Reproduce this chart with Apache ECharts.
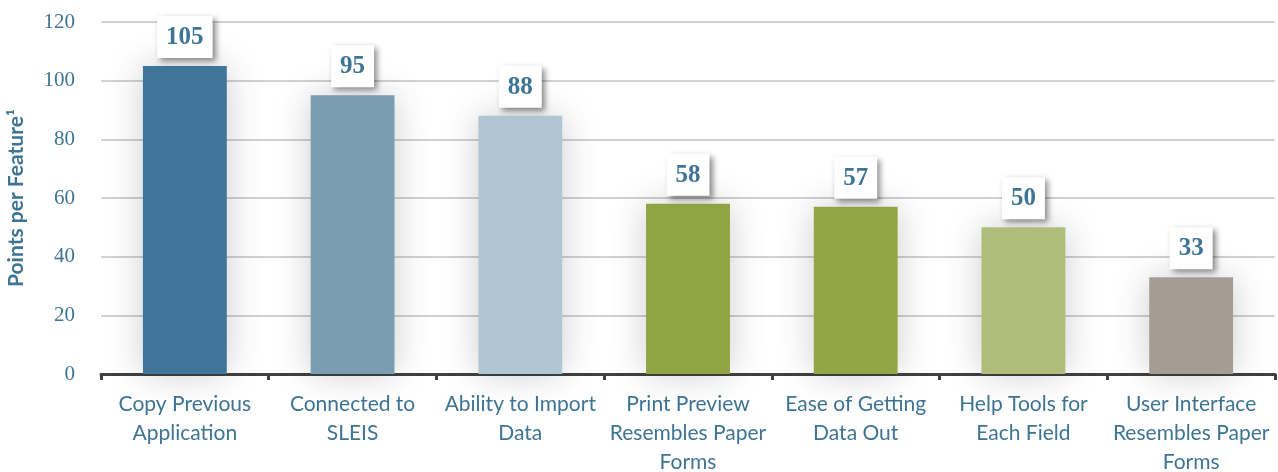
<!DOCTYPE html>
<html>
<head>
<meta charset="utf-8">
<script src="https://cdn.jsdelivr.net/npm/echarts@6/dist/echarts.min.js"></script>
<style>
html,body{margin:0;padding:0;background:#fff;}
#c{width:1278px;height:472px;}
</style>
</head>
<body>
<div id="c"></div>
<script>
const categories = [
  "Copy Previous\nApplication",
  "Connected to\nSLEIS",
  "Ability to Import\nData",
  "Print Preview\nResembles Paper\nForms",
  "Ease of Getting\nData Out",
  "Help Tools for\nEach Field",
  "User Interface\nResembles Paper\nForms"
];
const values = [105, 95, 88, 58, 57, 50, 33];
const barColors = ["#3F7598", "#7A9DB3", "#B1C6D3", "#8FA443", "#93A646", "#B0BC7A", "#A69D92"];
const yTicks = [0, 20, 40, 60, 80, 100, 120];
const yTitle = "Points per Feature\u00B9";

const blue = "#3E7494";
const chart = echarts.init(document.getElementById('c'), null, {renderer: 'canvas'});
chart.setOption({
  animation: false,
  grid: {left: 101, right: 3, top: 22, bottom: 98, containLabel: false, outerBoundsMode: 'none'},
  xAxis: {
    type: 'category',
    data: categories,
    axisLine: {lineStyle: {color: '#404040', width: 3}},
    axisTick: {show: true, length: 6, lineStyle: {color: '#404040', width: 3}},
    axisLabel: {
      interval: 0, margin: 16, color: blue,
      fontFamily: 'Lato', fontSize: 21, lineHeight: 29
    }
  },
  yAxis: {
    type: 'value',
    min: yTicks[0], max: yTicks[yTicks.length - 1], interval: 20,
    name: yTitle,
    nameLocation: 'middle',
    nameGap: 74,
    nameTextStyle: {color: blue, fontFamily: 'Lato', fontWeight: 'bold', fontSize: 21},
    axisLine: {show: false},
    axisTick: {show: false},
    axisLabel: {margin: 26, color: blue, fontFamily: 'Liberation Serif', fontSize: 21},
    splitLine: {lineStyle: {color: '#c2c2c2', width: 1.5}}
  },
  series: [{
    type: 'bar',
    barWidth: '50%',
    data: values.map((v, i) => ({
      value: v,
      itemStyle: {color: barColors[i], shadowColor: 'rgba(0,0,0,0.2)', shadowBlur: 36}
    })),
    label: {
      show: true,
      position: 'top',
      distance: 8,
      color: blue,
      fontFamily: 'Liberation Serif',
      fontWeight: 'bold',
      fontSize: 25,
      lineHeight: 27,
      backgroundColor: '#ffffff',
      padding: [8, 9, 7, 9],
      shadowColor: 'rgba(0,0,0,0.45)',
      shadowBlur: 6,
      shadowOffsetX: 3,
      shadowOffsetY: 3
    }
  }]
});
</script>
</body>
</html>
